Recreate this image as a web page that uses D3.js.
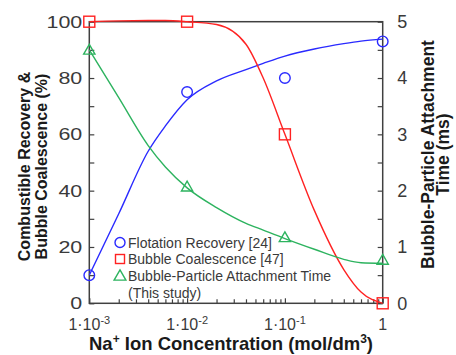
<!DOCTYPE html>
<html>
<head>
<meta charset="utf-8">
<script src="https://cdn.jsdelivr.net/npm/d3@7"></script>
<style>
  body { margin: 0; background: #fff; }
  svg { font-family: "Liberation Sans", Arial, sans-serif; }
</style>
</head>
<body>
<div id="chart"></div>
<script>
// measured points (Na+ concentration, mol/dm3)
const conc = [0.001, 0.01, 0.1, 1];
const recovery = [10, 75, 80, 93];          // %
const coalescence = [100, 100, 60, 0];      // %
const attachTime = [4.5, 2.07, 1.17, 0.77]; // ms

// fitted curves
const fitConc = [0.001, 0.002, 0.004, 0.006, 0.01, 0.02, 0.04, 0.06, 0.1, 0.2, 0.4, 0.6, 1];
const fitRecovery = [10, 31.8, 54, 63, 72.3, 79, 83, 85.2, 87.8, 90.3, 92.2, 93.1, 93.8];
const fitCoalescence = [100, 100.3, 100.4, 100.4, 100, 99, 92, 80, 60, 33, 12, 4, 0];
const fitAttach = [4.5, 3.65, 2.8, 2.42, 2.05, 1.7, 1.42, 1.3, 1.15, 0.96, 0.78, 0.72, 0.71];

const xTicks = [0.001, 0.01, 0.1, 1];
const xTickExp = ["-3", "-2", "-1", null];
const leftTicks = [0, 20, 40, 60, 80, 100];
const rightTicks = [0, 1, 2, 3, 4, 5];

const legendItems = ["Flotation Recovery [24]", "Bubble Coalescence [47]", "Bubble-Particle Attachment Time", "(This study)"];

const W = 456, H = 355;
const margin = { top: 21.7, left: 89.3, bottom: 51.7, right: 73.3 };
const width = W - margin.left - margin.right;
const height = H - margin.top - margin.bottom;

const BLUE = "#2a2aff", RED = "#ff2222", GREEN = "#2db35f";
const AXIS = "#404040", LABEL = "#3a3a3a", TITLE = "#1a1a1a";

const svg = d3.select("#chart").append("svg")
  .attr("width", W).attr("height", H);

const g = svg.append("g").attr("transform", `translate(${margin.left},${margin.top})`);

const x = d3.scaleLog().domain([0.001, 1]).range([0, width]);
const yL = d3.scaleLinear().domain([0, 100]).range([height, 0]);
const yR = d3.scaleLinear().domain([0, 5]).range([height, 0]);

// frame
g.append("rect")
  .attr("width", width).attr("height", height)
  .attr("fill", "none").attr("stroke", AXIS).attr("stroke-width", 1.5);

// left axis ticks (inward)
const leftAxis = g.append("g")
  .call(d3.axisLeft(yL).tickValues(d3.range(0, 101, 10)).tickSize(-5).tickFormat(""));
leftAxis.select(".domain").remove();
leftAxis.selectAll("line").attr("stroke", AXIS).attr("stroke-width", 1.2);
// left labels come out wide in the original
g.append("g").selectAll("text").data(leftTicks).enter().append("text")
  .attr("transform", d => `translate(-7,${yL(d)}) scale(1.3,1)`)
  .attr("dy", "0.36em")
  .attr("text-anchor", "end").attr("font-size", 16.5).attr("fill", LABEL)
  .text(d => d);

// right axis ticks (inward)
const rightAxis = g.append("g").attr("transform", `translate(${width},0)`)
  .call(d3.axisRight(yR).tickValues(d3.range(0, 5.01, 0.5)).tickSize(-5).tickFormat(""));
rightAxis.select(".domain").remove();
rightAxis.selectAll("line").attr("stroke", AXIS).attr("stroke-width", 1.2);
g.append("g").selectAll("text").data(rightTicks).enter().append("text")
  .attr("x", width + 14.5).attr("y", d => yR(d)).attr("dy", "0.36em")
  .attr("text-anchor", "start").attr("font-size", 18).attr("fill", LABEL)
  .text(d => d);

// bottom axis: log ticks inward
const minor = [];
for (let e = -3; e < 0; e++)
  for (let m = 2; m <= 9; m++) minor.push(m * Math.pow(10, e));
const bottomAxis = g.append("g").attr("transform", `translate(0,${height})`)
  .call(d3.axisBottom(x).tickValues(minor).tickSize(-4).tickFormat(""));
bottomAxis.select(".domain").remove();
bottomAxis.selectAll("line").attr("stroke", AXIS).attr("stroke-width", 1.2);
const majorAxis = g.append("g").attr("transform", `translate(0,${height})`)
  .call(d3.axisBottom(x).tickValues(xTicks).tickSize(-5).tickFormat(""));
majorAxis.select(".domain").remove();
majorAxis.selectAll("line").attr("stroke", AXIS).attr("stroke-width", 1.2);

const xt = g.append("g").selectAll("text").data(xTicks).enter().append("text")
  .attr("x", d => x(d)).attr("y", height + 27)
  .attr("text-anchor", "middle").attr("font-size", 16).attr("fill", LABEL);
xt.each(function (d, i) {
  const t = d3.select(this);
  if (xTickExp[i] === null) { t.text("1"); return; }
  t.append("tspan").text("1\u00b710");
  t.append("tspan").attr("font-size", 11).attr("dy", -6).text(xTickExp[i]);
});

// axis titles
const midY = margin.top + height / 2;
const titleText = (tx, ty, size, str) => svg.append("text")
  .attr("transform", `translate(${tx},${ty}) rotate(-90)`)
  .attr("text-anchor", "middle").attr("font-size", size).attr("font-weight", "bold")
  .attr("fill", TITLE).text(str);

titleText(30, midY + 4, 16, "Combustible Recovery &");
titleText(47, midY + 4, 16, "Bubble Coalescence (%)");
titleText(433.5, midY - 8, 17.5, "Bubble-Particle Attachment");
titleText(449, midY - 8, 17.5, "Time (ms)");

const xTitle = svg.append("text")
  .attr("x", 231).attr("y", 350)
  .attr("text-anchor", "middle").attr("font-size", 18.5).attr("font-weight", "bold").attr("fill", TITLE);
xTitle.append("tspan").text("Na");
xTitle.append("tspan").attr("font-size", 12).attr("dy", -7).text("+");
xTitle.append("tspan").attr("dy", 7).text(" Ion Concentration (mol/dm");
xTitle.append("tspan").attr("font-size", 12).attr("dy", -7).text("3");
xTitle.append("tspan").attr("dy", 7).text(")");

// curves
const line = (ys, yScale) => d3.line()
  .x((d, i) => x(fitConc[i]))
  .y((d, i) => yScale(ys[i]))
  .curve(d3.curveMonotoneX)(fitConc);

g.append("path").attr("d", line(fitRecovery, yL))
  .attr("fill", "none").attr("stroke", BLUE).attr("stroke-width", 1.4);
g.append("path").attr("d", line(fitCoalescence, yL))
  .attr("fill", "none").attr("stroke", RED).attr("stroke-width", 1.4);
g.append("path").attr("d", line(fitAttach, yR))
  .attr("fill", "none").attr("stroke", GREEN).attr("stroke-width", 1.4);

// markers
g.append("g").selectAll("circle").data(conc).enter().append("circle")
  .attr("cx", d => x(d)).attr("cy", (d, i) => yL(recovery[i])).attr("r", 5.3)
  .attr("fill", "none").attr("stroke", BLUE).attr("stroke-width", 1.4);

g.append("g").selectAll("rect").data(conc).enter().append("rect")
  .attr("x", d => x(d) - 5.5).attr("y", (d, i) => yL(coalescence[i]) - 5.5)
  .attr("width", 11).attr("height", 11)
  .attr("fill", "none").attr("stroke", RED).attr("stroke-width", 1.4);

const tri = d3.symbol().type(d3.symbolTriangle).size(55);
g.append("g").selectAll("path").data(conc).enter().append("path")
  .attr("d", tri)
  .attr("transform", (d, i) => `translate(${x(d)},${yR(attachTime[i]) + 1})`)
  .attr("fill", "none").attr("stroke", GREEN).attr("stroke-width", 1.4);

// legend
const lg = svg.append("g");
const rowY = [242.5, 259, 275.7, 293.3];
lg.append("circle").attr("cx", 120).attr("cy", rowY[0]).attr("r", 5)
  .attr("fill", "none").attr("stroke", BLUE).attr("stroke-width", 1.4);
lg.append("rect").attr("x", 115.5).attr("y", rowY[1] - 4.5).attr("width", 9).attr("height", 9)
  .attr("fill", "none").attr("stroke", RED).attr("stroke-width", 1.4);
lg.append("path").attr("d", d3.symbol().type(d3.symbolTriangle).size(60))
  .attr("transform", `translate(120,${rowY[2] + 1})`)
  .attr("fill", "none").attr("stroke", GREEN).attr("stroke-width", 1.4);
lg.selectAll("text").data(legendItems).enter().append("text")
  .attr("x", 128).attr("y", (d, i) => rowY[i]).attr("dy", "0.36em")
  .attr("font-size", 14).attr("fill", LABEL)
  .text(d => d);
</script>
</body>
</html>
